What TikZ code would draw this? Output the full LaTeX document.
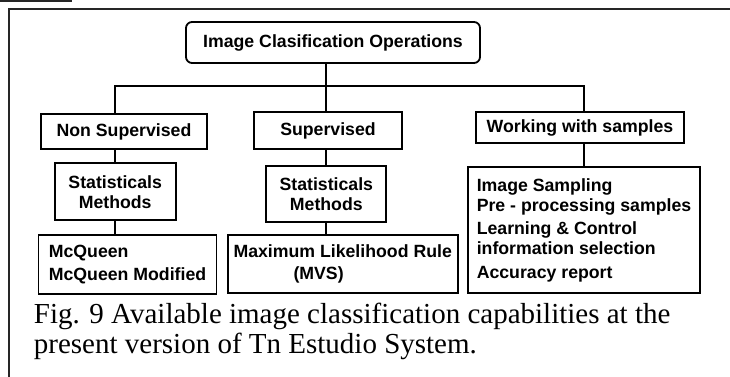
\documentclass[tikz,border=0pt]{standalone}
\usepackage{fontspec}
\setmainfont{Liberation Serif}
\newfontfamily\boxfont{Liberation Sans}
\usepackage{tikz}
\usetikzlibrary{calc}
\usetikzlibrary{positioning}
\tikzset{>=latex}
\tikzstyle{blk} = [draw, line width = 1.8pt, inner sep = 0, font = \boxfont\bfseries\fontsize{17.7}{20}\selectfont]
\tikzstyle{figcap} = [draw = none, inner sep = 0, align = left, font = \fontsize{29}{30}\selectfont]

\begin{document}
\begin{tikzpicture}[x = 1pt, y = -1pt, line width = 1.8pt]
\useasboundingbox (0, 0) rectangle (730, 377);
%\draw [red] (0,0) rectangle (730,377);
\draw [line width = 1.6pt, draw = black!85] (0, 1) -- (72, 1);
\draw [line width = 1.6pt, draw = black!85] (730, 9) -- (9, 9) -- (9, 377);
\node [blk, rounded corners = 6pt, minimum width = 294, minimum height = 41] (T) at (333, 42.5) {Image Clasification Operations};
\node [blk, minimum width = 166, minimum height = 35] (NS) at (124, 131.5) {Non Supervised};
\node [blk, minimum width = 148, minimum height = 37] (S) at (328, 130.7) {Supervised};
\node [blk, minimum width = 208, minimum height = 31] (W) at (580, 127.8) {Working with samples};
\node [blk, align = center, minimum width = 121, minimum height = 57] (SM1) at (115.2, 191.7) {Statisticals\\Methods};
\node [blk, align = center, minimum width = 120, minimum height = 56] (SM2) at (326.3, 194) {Statisticals\\Methods};
\node [blk, align = left, minimum width = 232, minimum height = 126] (WS) at (584, 230.2) {Image Sampling\\Pre - processing samples\\[3.5pt]Learning \& Control\\information selection\\[3.5pt]Accuracy report};
\node [blk, align = left, minimum width = 178, minimum height = 59] (MQ) at (127.5, 264.5) {McQueen\\[3pt]McQueen Modified};
\node [blk, align = left, minimum width = 230, minimum height = 58] (ML) at (342.7, 264.2) {Maximum Likelihood Rule\\[2pt]\hspace*{60pt}(MVS)};
\node [figcap, anchor = base west] (F) at (33, 353) {Fig. 9 Available image classification capabilities at the\\present version of Tn Estudio System.};
\coordinate (B) at (0, 86);
\draw (SM2 |- T.south) -- (SM2 |- S.north);
\draw (SM1 |- NS.north) -- (SM1 |- B) -- (WS |- B) -- (WS |- W.north);
\draw (SM1 |- NS.south) -- (SM1.north);
\draw (SM1.south) -- (SM1 |- MQ.north);
\draw (SM2 |- S.south) -- (SM2.north);
\draw (SM2.south) -- (SM2 |- ML.north);
\draw (WS |- W.south) -- (WS.north);
\end{tikzpicture}
\end{document}
